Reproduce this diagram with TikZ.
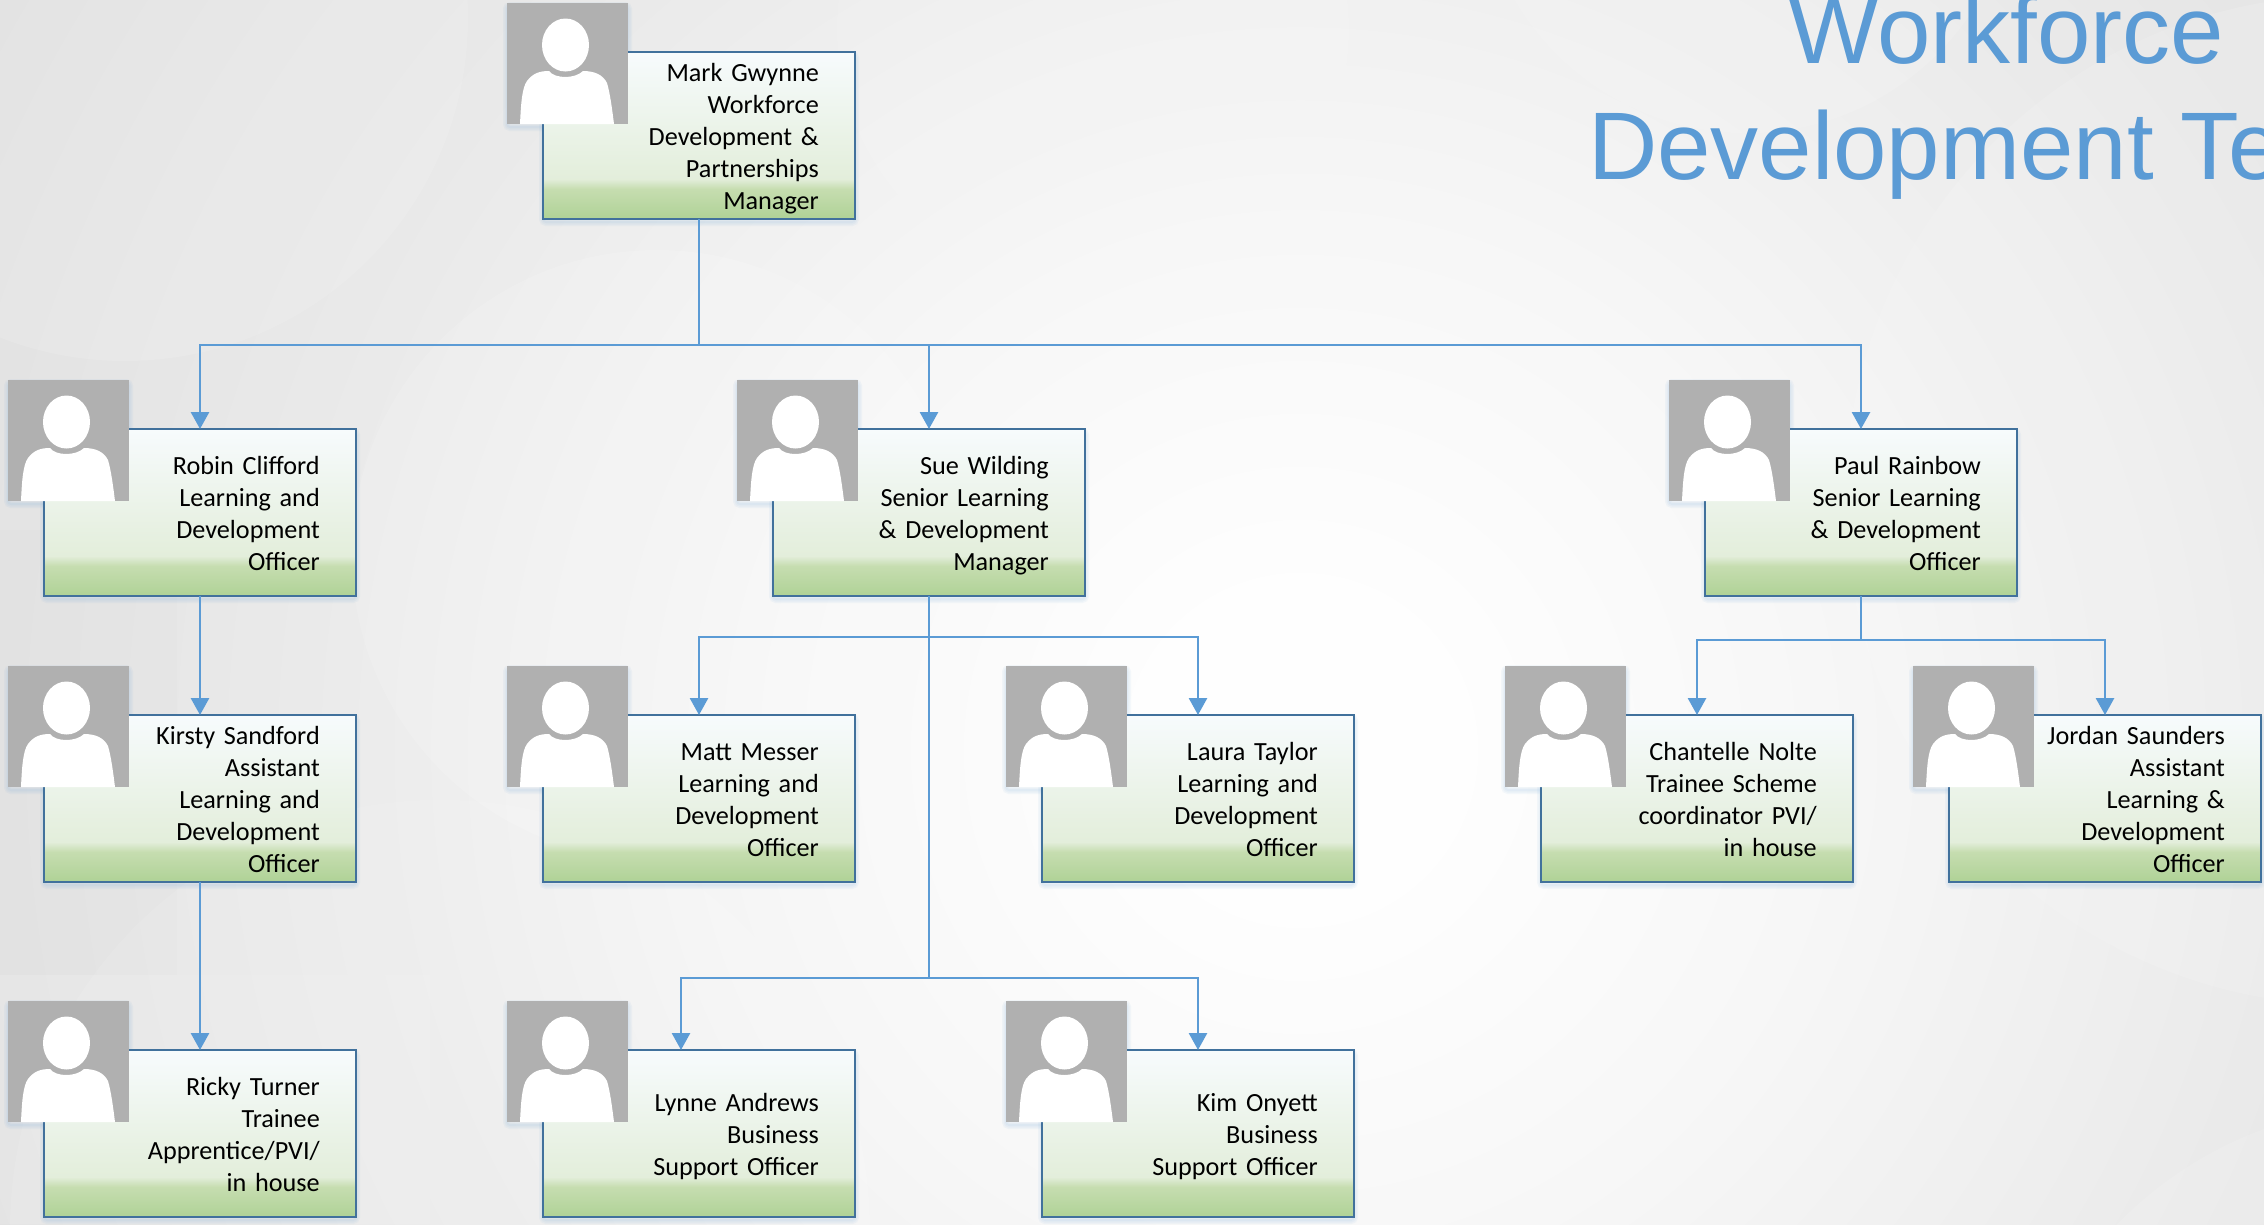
\documentclass[tikz,border=0pt]{standalone}
\usepackage{fontspec}
\setmainfont{Carlito}
\newfontfamily\titlefont{Liberation Sans}
\usetikzlibrary{arrows.meta,calc}
\definecolor{conn}{HTML}{5B9BD5}
\definecolor{boxline}{HTML}{41719C}
\definecolor{photog}{HTML}{B0B0B0}
\definecolor{boxA}{HTML}{AFD296}
\definecolor{boxB}{HTML}{C6DDB0}
\definecolor{boxC}{HTML}{E3EEDB}
\definecolor{boxD}{HTML}{F7FBFD}
\definecolor{bgA}{HTML}{FEFEFE}
\definecolor{bgB}{HTML}{F7F7F7}
\definecolor{bgC}{HTML}{EAEAEA}
\definecolor{bgD}{HTML}{E0E0E0}
\pgfdeclareverticalshading{boxfade}{100bp}{color(0bp)=(boxA);color(25bp)=(boxA);color(34bp)=(boxB);color(37bp)=(boxC);color(75bp)=(boxD);color(100bp)=(boxD)}
\pgfdeclareradialshading{bgfade}{\pgfpoint{0bp}{0bp}}{color(0bp)=(bgA);color(2.1bp)=(bgA);color(7.25bp)=(bgB);color(13.85bp)=(bgC);color(20.85bp)=(bgD);color(50bp)=(bgD)}
\tikzset{
  x=1pt,y=-1pt,
  connector/.style={draw=conn,line width=2.8pt},
  arrowed/.style={connector,-{Triangle[width=18pt,length=17pt]}},
  staffbox/.style={draw=boxline,line width=2pt,shading=boxfade,outer sep=0pt,minimum width=312pt,minimum height=167pt,
    inner sep=0pt,anchor=north west},
  stafftext/.style={text width=238pt,inner sep=0pt,align=right,anchor=east,text=black,
    font=\fontsize{26.2}{32}\selectfont},
  photobox/.style={fill=photog,minimum size=121pt,inner sep=0pt,outer sep=0pt,anchor=north west},
  softlayer/.style={draw=conn,opacity=0.06,rounded corners=3pt},
  bgpatch/.style={fill=white,opacity=#1},
  bgshade/.style={fill=black,opacity=#1},
}
\newcommand{\staff}[4]{%
  \foreach \w in {2,5,8}{%
    \draw[softlayer,line width=\w pt] (#2,#3+3) rectangle ++(312,167);
    \draw[softlayer,line width=\w pt] (#2-36,#3-46) rectangle ++(121,121);}
  \node[staffbox] (#1) at (#2,#3) {};
  \node[stafftext] (#1t) at ($(#1.east)+(-36,3.5)$) {\strut #4\strut};
  \node[photobox] (#1p) at (#2-36,#3-49) {};
  \begin{scope}[shift={(#1p.north west)}]
    \fill[white] (58.5,42) ellipse [x radius=23.5pt,y radius=26.5pt];
    \fill[white] (13,121) .. controls (14,100) and (15,85) .. (20,78)
      .. controls (26,70) and (33,68) .. (42,68)
      .. controls (48,76) and (68,76) .. (76,68)
      .. controls (88,68) and (96,72) .. (100,80)
      .. controls (103,90) and (105,105) .. (107,121) -- cycle;
  \end{scope}}
\begin{document}
\begin{tikzpicture}
\clip (0,0) rectangle (2264,1224);
\useasboundingbox (0,0) rectangle (2264,1224);
% background
\shade[shading=bgfade] (-500,-1050) rectangle (3100,2550);
\fill[bgpatch=0.12] (125,18) circle (343);
\fill[bgshade=0.008] (0,530) rectangle (177,975);
\fill[bgpatch=0.08] (0,975) rectangle (430,1224);
\fill[bgpatch=0.10] (440,1230) circle (430);
\fill[bgpatch=0.15] (657,555) circle (305);
\fill[bgpatch=0.08] (1093,29) circle (256);
\fill[bgpatch=0.12] (1747,-136) circle (269);
\fill[bgpatch=0.12] (2350,500) circle (505);
\fill[bgpatch=0.12] (2400,1500) circle (395);
% title
\node[anchor=base east,inner sep=0pt,text=conn,font=\titlefont\fontsize{96}{116}\selectfont] (title1) at (2224,63) {Workforce};
\node[anchor=base west,inner sep=0pt,text=conn,font=\titlefont\fontsize{96}{116}\selectfont] (title2) at (1588,179) {Development Te};
% staff
\staff{mark}{543}{52}{Mark Gwynne\\Workforce\\Development \&\\Partnerships\\Manager}
\staff{robin}{44}{429}{Robin Clifford\\Learning and\\Development\\Officer}
\staff{sue}{773}{429}{Sue Wilding\\Senior Learning\\\& Development\\Manager}
\staff{paul}{1705}{429}{Paul Rainbow\\Senior Learning\\\& Development\\Officer}
\staff{kirsty}{44}{715}{Kirsty Sandford\\Assistant\\Learning and\\Development\\Officer}
\staff{matt}{543}{715}{Matt Messer\\Learning and\\Development\\Officer}
\staff{laura}{1042}{715}{Laura Taylor\\Learning and\\Development\\Officer}
\staff{chantelle}{1541}{715}{Chantelle Nolte\\Trainee Scheme\\coordinator PVI/\\in house}
\staff{jordan}{1949}{715}{Jordan Saunders\\Assistant\\Learning \&\\Development\\Officer}
\staff{ricky}{44}{1050}{Ricky Turner\\Trainee\\Apprentice/PVI/\\in house}
\staff{lynne}{543}{1050}{Lynne Andrews\\Business\\Support Officer}
\staff{kim}{1042}{1050}{Kim Onyett\\Business\\Support Officer}
% connectors
\coordinate (jm) at (mark.south |- 0,345);
\coordinate (js) at (sue.south |- 0,637);
\coordinate (jt) at (sue.south |- 0,978);
\coordinate (jp) at (paul.south |- 0,640);
\coordinate (lynnein) at ($(lynne.north)+(-18,0)$);
\draw[connector] (mark.south) -- (jm);
\draw[arrowed] (jm) -| (robin.north);
\draw[arrowed] (jm) -| (sue.north);
\draw[arrowed] (jm) -| (paul.north);
\draw[connector] (sue.south) -- (jt);
\draw[arrowed] (js) -| (matt.north);
\draw[arrowed] (js) -| (laura.north);
\draw[arrowed] (jt) -| (lynnein);
\draw[arrowed] (jt) -| (kim.north);
\draw[connector] (paul.south) -- (jp);
\draw[arrowed] (jp) -| (chantelle.north);
\draw[arrowed] (jp) -| (jordan.north);
\draw[arrowed] (robin.south) -- (kirsty.north);
\draw[arrowed] (kirsty.south) -- (ricky.north);
\end{tikzpicture}
\end{document}
